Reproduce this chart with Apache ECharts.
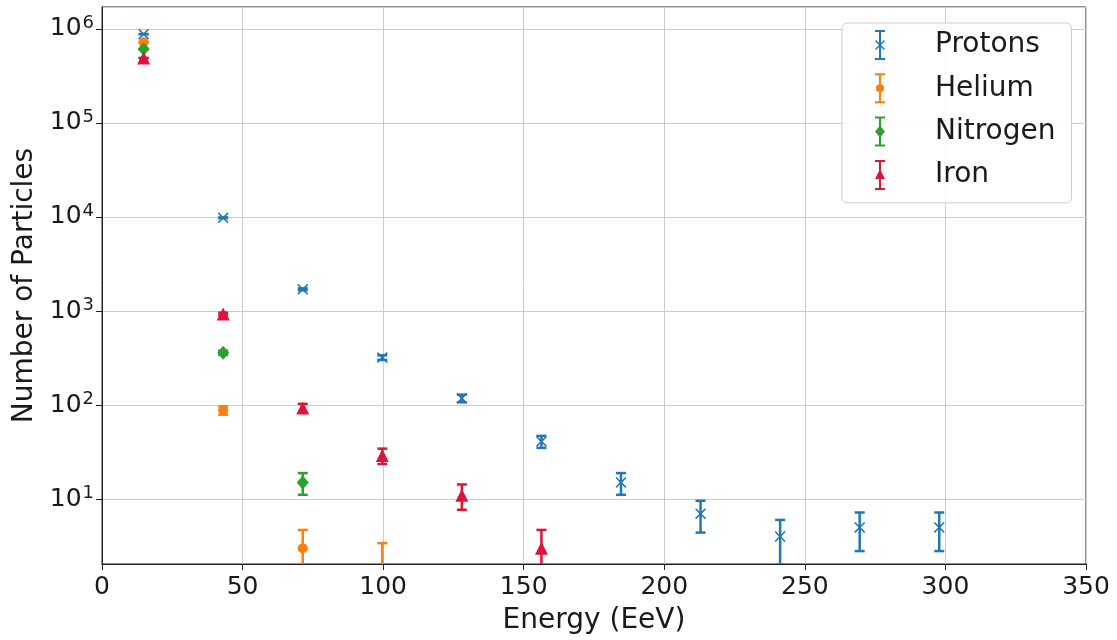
<!DOCTYPE html>
<html>
<head>
<meta charset="utf-8">
<script src="https://cdn.jsdelivr.net/npm/echarts@6/dist/echarts.min.js"></script>
<style>
  html, body { margin: 0; padding: 0; background: #fff; }
  #chart { width: 1117px; height: 640px; }
</style>
</head>
<body>
<div id="chart"></div>
<script>
// energy bin centres (EeV)
var energy = [14.8, 43.1, 71.4, 99.7, 128.0, 156.3, 184.6, 212.9, 241.2, 269.5, 297.8];

// counts, with error bar ends
var protons     = [880000, 9800, 1700, 320, 118, 41, 15, 7, 4, 5, 5];
var protonsLow  = [879000, 9700, 1660, 302, 107, 35, 11.1, 4.4, 2.0, 2.8, 2.8];
var protonsHigh = [881000, 9900, 1740, 338, 129, 47, 18.9, 9.6, 6.0, 7.2, 7.2];

var helium     = [720000, 88, 3, 2];
var heliumLow  = [719000, 79, 1.3, 0.6];
var heliumHigh = [721000, 97, 4.7, 3.4];

var nitrogen     = [610000, 360, 15];
var nitrogenLow  = [609000, 341, 11.1];
var nitrogenHigh = [611000, 379, 18.9];

var iron     = [490000, 930, 93, 29, 11, 3];
var ironLow  = [489000, 900, 83, 23.6, 7.7, 1.3];
var ironHigh = [491000, 960, 103, 34.4, 14.3, 4.7];

var FONT = 'DejaVu Sans';

// legend icons: error bar + marker
var barPath = 'M9,0 L11,0 L11,30 L9,30 Z M5,0 L15,0 L15,2 L5,2 Z M5,28 L15,28 L15,30 L5,30 Z ';
var iconProtons  = 'path://' + barPath + 'M5,11 L6,10 L10,14 L14,10 L15,11 L11,15 L15,19 L14,20 L10,16 L6,20 L5,19 L9,15 Z';
var iconHelium   = 'path://' + barPath + 'M6,15 A4,4 0 1,1 14,15 A4,4 0 1,1 6,15 Z';
var iconNitrogen = 'path://' + barPath + 'M10,9 L15,15 L10,21 L5,15 Z';
var iconIron     = 'path://' + barPath + 'M10,9 L15,19 L5,19 Z';

var xMarker = 'path://M0,1 L1,0 L5,4 L9,0 L10,1 L6,5 L10,9 L9,10 L5,6 L1,10 L0,9 L4,5 Z';

function points(vals) {
    var out = [];
    for (var i = 0; i < vals.length; i++) out.push([energy[i], vals[i]]);
    return out;
}
function bars(lows, highs) {
    var out = [];
    for (var i = 0; i < lows.length; i++) out.push([energy[i], lows[i], highs[i]]);
    return out;
}

function errorSeries(name, color, lows, highs) {
    return {
        name: name,
        type: 'custom',
        clip: true,
        z: 2,
        silent: true,
        itemStyle: { color: color },
        encode: { x: 0, y: [1, 2] },
        data: bars(lows, highs),
        renderItem: function (params, api) {
            var x = api.value(0);
            var a = api.coord([x, api.value(1)]);
            var b = api.coord([x, api.value(2)]);
            var st = { stroke: color, lineWidth: 2.5 };
            var w = 5;
            return {
                type: 'group',
                children: [
                    { type: 'line', shape: { x1: a[0], y1: a[1], x2: b[0], y2: b[1] }, style: st },
                    { type: 'line', shape: { x1: a[0] - w, y1: a[1], x2: a[0] + w, y2: a[1] }, style: st },
                    { type: 'line', shape: { x1: b[0] - w, y1: b[1], x2: b[0] + w, y2: b[1] }, style: st }
                ]
            };
        }
    };
}

function markerSeries(name, color, vals, symbol, size) {
    return {
        name: name,
        type: 'scatter',
        z: 3,
        symbol: symbol,
        symbolSize: size,
        itemStyle: { color: color, opacity: 1 },
        data: points(vals)
    };
}

var myChart = echarts.init(document.getElementById('chart'));

var option = {
    backgroundColor: '#fff',
    animation: false,
    color: ['#1f77b4', '#ff7f0e', '#2ca02c', '#dc143c'],
    textStyle: { fontFamily: FONT },
    grid: {
        left: 102, right: 31, top: 7, bottom: 75,
        show: true, borderColor: '#222', borderWidth: 1, backgroundColor: 'transparent'
    },
    legend: {
        orient: 'vertical',
        left: 842,
        top: 23,
        padding: [7, 16, 13, 33],
        itemWidth: 10,
        itemHeight: 30,
        itemGap: 13.3,
        backgroundColor: 'rgba(255,255,255,0.85)',
        borderColor: '#cccccc',
        borderWidth: 1,
        borderRadius: 5,
        textStyle: { fontFamily: FONT, fontSize: 28, color: '#1a1a1a', padding: [0, 0, 0, 45] },
        data: [
            { name: 'Protons', icon: iconProtons, itemStyle: { color: '#1f77b4' } },
            { name: 'Helium', icon: iconHelium, itemStyle: { color: '#ff7f0e' } },
            { name: 'Nitrogen', icon: iconNitrogen, itemStyle: { color: '#2ca02c' } },
            { name: 'Iron', icon: iconIron, itemStyle: { color: '#dc143c' } }
        ]
    },
    xAxis: {
        type: 'value',
        min: 0,
        max: 350,
        interval: 50,
        name: 'Energy (EeV)',
        nameLocation: 'middle',
        nameGap: 43,
        nameTextStyle: { fontFamily: FONT, fontSize: 28, color: '#1a1a1a' },
        axisLine: { show: true, lineStyle: { color: '#222', width: 1 } },
        axisTick: { show: true, length: 6, lineStyle: { color: '#222' } },
        axisLabel: { fontFamily: FONT, fontSize: 25, color: '#1a1a1a', margin: 11 },
        splitLine: { show: true, lineStyle: { color: '#cccccc', width: 1 } }
    },
    yAxis: {
        type: 'log',
        logBase: 10,
        min: 2.04,
        max: 1.71e6,
        name: 'Number of Particles',
        nameLocation: 'middle',
        nameGap: 62,
        nameTextStyle: { fontFamily: FONT, fontSize: 28, color: '#1a1a1a' },
        axisLine: { show: true, lineStyle: { color: '#222', width: 1 } },
        axisTick: { show: true, length: 6, lineStyle: { color: '#222' } },
        axisLabel: {
            margin: 8,
            showMinLabel: false,
            showMaxLabel: false,
            formatter: function (v) {
                var e = Math.log10(v);
                if (Math.abs(e - Math.round(e)) > 1e-6) return '';
                return '{b|10}{s|' + Math.round(e) + '}';
            },
            rich: {
                b: { fontFamily: FONT, fontSize: 25, color: '#1a1a1a' },
                s: { fontFamily: FONT, fontSize: 18, color: '#1a1a1a', padding: [0, 0, 12, 1] }
            }
        },
        splitLine: { show: true, lineStyle: { color: '#cccccc', width: 1 } }
    },
    series: [
        errorSeries('Protons', '#1f77b4', protonsLow, protonsHigh),
        errorSeries('Helium', '#ff7f0e', heliumLow, heliumHigh),
        errorSeries('Nitrogen', '#2ca02c', nitrogenLow, nitrogenHigh),
        errorSeries('Iron', '#dc143c', ironLow, ironHigh),
        markerSeries('Protons', '#1f77b4', protons, xMarker, 11),
        markerSeries('Helium', '#ff7f0e', helium, 'circle', 10),
        markerSeries('Nitrogen', '#2ca02c', nitrogen, 'diamond', [12, 14]),
        markerSeries('Iron', '#dc143c', iron, 'triangle', 13)
    ]
};

myChart.setOption(option);
</script>
</body>
</html>
